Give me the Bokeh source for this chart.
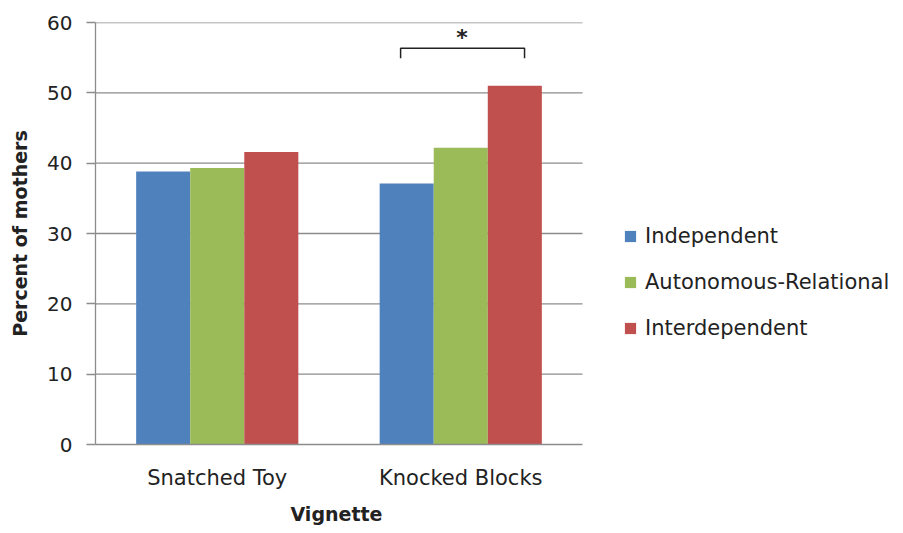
from bokeh.plotting import figure
from bokeh.models import Legend, LegendItem, FixedTicker, Range1d, Title
from bokeh.core.properties import value
from bokeh.embed import file_html
from bokeh.resources import INLINE

categories = ["Snatched Toy", "Knocked Blocks"]
series_names = ["Independent", "Autonomous-Relational", "Interdependent"]
independent = [38.8, 37.1]
autonomous_relational = [39.3, 42.2]
interdependent = [41.6, 51.0]
y_ticks = [0, 10, 20, 30, 40, 50, 60]
bracket_x = [1.253, 1.253, 1.762, 1.762]
bracket_y = [54.9, 56.35, 56.35, 54.9]
star_x = [1.505]
star_y = [57.8]
star_text = ["*"]

colors = ["#4F81BD", "#9BBB59", "#C0504D"]
grid_col = "#8C8C8C"
text_col = "#222222"
FONT = "DejaVu Sans"

n_cat = len(categories)
W, H = 903, 533
left, right_px, top, bottom = 95, 582, 22, 444
# frame spans to the right edge so the legend (inside the frame) is not clipped
x_end = n_cat * (W - left) / (right_px - left)

p = figure(width=W, height=H, output_backend="svg", toolbar_location=None,
           x_range=Range1d(0, x_end), y_range=Range1d(0, 60),
           min_border_left=left, min_border_right=0, min_border_top=top,
           min_border_bottom=H - bottom)
p.outline_line_color = None
p.background_fill_color = "white"
p.border_fill_color = "white"

# horizontal gridlines limited to the category area
p.segment(x0=[0] * (len(y_ticks) - 1), x1=[n_cat] * (len(y_ticks) - 1),
          y0=y_ticks[1:], y1=y_ticks[1:], line_color=grid_col, line_width=1.3)

bw = 0.222
series = [independent, autonomous_relational, interdependent]
items = []
for k, (vals, col, name) in enumerate(zip(series, colors, series_names)):
    xs = [i + 0.5 + (k - 1) * bw for i in range(n_cat)]
    r = p.vbar(x=xs, top=vals, width=bw, bottom=0, fill_color=col, line_color=None)
    items.append(LegendItem(label=name, renderers=[r]))

p.line(bracket_x, bracket_y, line_color=text_col, line_width=1.5)
p.text(star_x, star_y, text=star_text, text_font=value(FONT), text_font_size="22px",
       text_font_style="bold", text_align="center", text_baseline="middle", text_color=text_col)

# axes
p.yaxis.ticker = FixedTicker(ticks=y_ticks)
p.yaxis.axis_line_color = grid_col
p.yaxis.axis_line_width = 1.3
p.yaxis.major_tick_line_color = grid_col
p.yaxis.major_tick_line_width = 1.3
p.yaxis.major_tick_out = 9
p.yaxis.major_tick_in = 0
p.yaxis.minor_tick_line_color = None
p.yaxis.major_label_text_font = FONT
p.yaxis.major_label_text_font_size = "20px"
p.yaxis.major_label_text_color = text_col
p.yaxis.major_label_standoff = 14
p.yaxis.axis_label = "Percent of mothers"
p.yaxis.axis_label_text_font = FONT
p.yaxis.axis_label_text_font_size = "19px"
p.yaxis.axis_label_text_font_style = "bold"
p.yaxis.axis_label_text_color = text_col
p.yaxis.axis_label_standoff = 13

p.xaxis.bounds = (0, n_cat)
p.xaxis.ticker = FixedTicker(ticks=[i + 0.5 for i in range(n_cat)])
p.xaxis.major_label_overrides = {i + 0.5: c for i, c in enumerate(categories)}
p.xaxis.axis_line_color = grid_col
p.xaxis.axis_line_width = 1.3
p.xaxis.major_tick_line_color = None
p.xaxis.minor_tick_line_color = None
p.xaxis.major_label_text_font = FONT
p.xaxis.major_label_text_font_size = "21px"
p.xaxis.major_label_text_color = text_col
p.xaxis.major_label_standoff = 15

p.xgrid.grid_line_color = None
p.ygrid.grid_line_color = None

# x-axis title centred under the category area (not the whole frame)
x_title = Title(text="Vignette", align="left", offset=195, standoff=17,
                text_font=FONT, text_font_size="19px", text_font_style="bold",
                text_color=text_col)
p.add_layout(x_title, "below")

legend = Legend(items=items, location=(528, 104), orientation="vertical",
                label_text_font=FONT, label_text_font_size="21px", label_text_color=text_col,
                glyph_width=14, glyph_height=14, spacing=22, label_standoff=8,
                border_line_color=None, background_fill_alpha=0, padding=0, margin=0)
p.add_layout(legend, "center")

open("out.html", "w").write(file_html(p, INLINE))
